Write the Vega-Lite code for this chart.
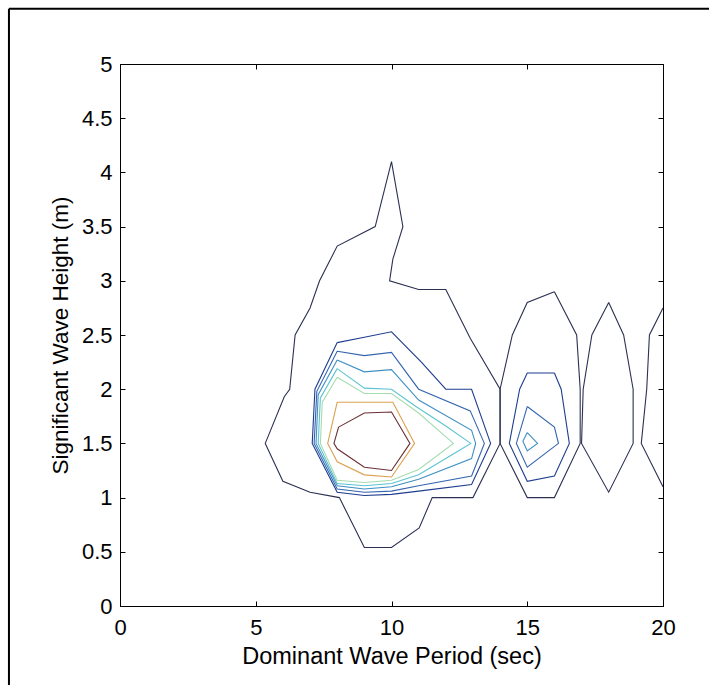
{
  "$schema": "https://vega.github.io/schema/vega-lite/v6.json",
  "width": 543,
  "height": 542,
  "autosize": {"type": "none"},
  "padding": {"left": 120, "top": 64, "right": 46, "bottom": 79},
  "background": "white",
  "config": {
    "font": "Liberation Sans",
    "view": {"stroke": "black", "strokeWidth": 1},
    "axis": {
      "grid": false,
      "domainColor": "black",
      "tickColor": "black",
      "tickSize": -5,
      "labelFont": "Liberation Sans",
      "labelFontSize": 22,
      "labelColor": "black",
      "labelFlush": false,
      "labelOverlap": false,
      "titleFont": "Liberation Sans",
      "titleFontSize": 23.5,
      "titleFontWeight": "normal",
      "titleColor": "black"
    }
  },
  "datasets": {
    "frame": [
      {"x": -4.09, "x2": -4.09, "y": 5.51, "y2": -1.2},
      {"x": -4.09, "x2": 22.5, "y": 5.51, "y2": 5.51}
    ],
    "contours": [
      {"line": "a1", "level": 1, "seq": 1, "period": 10, "height": 4.1},
      {"line": "a1", "level": 1, "seq": 2, "period": 10.42, "height": 3.5},
      {"line": "a1", "level": 1, "seq": 3, "period": 10.05, "height": 3.2},
      {"line": "a1", "level": 1, "seq": 4, "period": 9.93, "height": 3.0},
      {"line": "a1", "level": 1, "seq": 5, "period": 11, "height": 2.92},
      {"line": "a1", "level": 1, "seq": 6, "period": 12, "height": 2.92},
      {"line": "a1", "level": 1, "seq": 7, "period": 12.9, "height": 2.47},
      {"line": "a1", "level": 1, "seq": 8, "period": 14, "height": 2.0},
      {"line": "a1", "level": 1, "seq": 9, "period": 14, "height": 1.5},
      {"line": "a1", "level": 1, "seq": 10, "period": 13, "height": 1.0},
      {"line": "a1", "level": 1, "seq": 11, "period": 11.5, "height": 1.0},
      {"line": "a1", "level": 1, "seq": 12, "period": 11.02, "height": 0.72},
      {"line": "a1", "level": 1, "seq": 13, "period": 10, "height": 0.54},
      {"line": "a1", "level": 1, "seq": 14, "period": 9, "height": 0.54},
      {"line": "a1", "level": 1, "seq": 15, "period": 8.08, "height": 1.0},
      {"line": "a1", "level": 1, "seq": 16, "period": 7, "height": 1.05},
      {"line": "a1", "level": 1, "seq": 17, "period": 6, "height": 1.15},
      {"line": "a1", "level": 1, "seq": 18, "period": 5.35, "height": 1.5},
      {"line": "a1", "level": 1, "seq": 19, "period": 6.05, "height": 1.93},
      {"line": "a1", "level": 1, "seq": 20, "period": 6.25, "height": 2.0},
      {"line": "a1", "level": 1, "seq": 21, "period": 6.45, "height": 2.5},
      {"line": "a1", "level": 1, "seq": 22, "period": 7, "height": 2.75},
      {"line": "a1", "level": 1, "seq": 23, "period": 7.35, "height": 3.0},
      {"line": "a1", "level": 1, "seq": 24, "period": 8, "height": 3.32},
      {"line": "a1", "level": 1, "seq": 25, "period": 9.4, "height": 3.5},
      {"line": "a1", "level": 1, "seq": 26, "period": 10, "height": 4.1},

      {"line": "b1", "level": 1, "seq": 1, "period": 16, "height": 2.9},
      {"line": "b1", "level": 1, "seq": 2, "period": 15, "height": 2.8},
      {"line": "b1", "level": 1, "seq": 3, "period": 14.45, "height": 2.5},
      {"line": "b1", "level": 1, "seq": 4, "period": 14, "height": 2.0},
      {"line": "b1", "level": 1, "seq": 5, "period": 14, "height": 1.5},
      {"line": "b1", "level": 1, "seq": 6, "period": 15, "height": 1.0},
      {"line": "b1", "level": 1, "seq": 7, "period": 16, "height": 1.0},
      {"line": "b1", "level": 1, "seq": 8, "period": 16.95, "height": 1.5},
      {"line": "b1", "level": 1, "seq": 9, "period": 16.95, "height": 2.0},
      {"line": "b1", "level": 1, "seq": 10, "period": 16.82, "height": 2.5},
      {"line": "b1", "level": 1, "seq": 11, "period": 16, "height": 2.9},

      {"line": "c1", "level": 1, "seq": 1, "period": 18, "height": 2.8},
      {"line": "c1", "level": 1, "seq": 2, "period": 17.38, "height": 2.5},
      {"line": "c1", "level": 1, "seq": 3, "period": 17.06, "height": 2.0},
      {"line": "c1", "level": 1, "seq": 4, "period": 17.0, "height": 1.5},
      {"line": "c1", "level": 1, "seq": 5, "period": 18, "height": 1.05},
      {"line": "c1", "level": 1, "seq": 6, "period": 18.9, "height": 1.5},
      {"line": "c1", "level": 1, "seq": 7, "period": 18.9, "height": 2.0},
      {"line": "c1", "level": 1, "seq": 8, "period": 18.55, "height": 2.5},
      {"line": "c1", "level": 1, "seq": 9, "period": 18, "height": 2.8},

      {"line": "d1", "level": 1, "seq": 1, "period": 20, "height": 2.75},
      {"line": "d1", "level": 1, "seq": 2, "period": 19.5, "height": 2.5},
      {"line": "d1", "level": 1, "seq": 3, "period": 19.4, "height": 2.0},
      {"line": "d1", "level": 1, "seq": 4, "period": 19.2, "height": 1.5},
      {"line": "d1", "level": 1, "seq": 5, "period": 20, "height": 1.1},

      {"line": "a2", "level": 2, "seq": 1, "period": 8, "height": 2.43},
      {"line": "a2", "level": 2, "seq": 2, "period": 9, "height": 2.48},
      {"line": "a2", "level": 2, "seq": 3, "period": 10, "height": 2.53},
      {"line": "a2", "level": 2, "seq": 4, "period": 11.1, "height": 2.25},
      {"line": "a2", "level": 2, "seq": 5, "period": 12, "height": 2.0},
      {"line": "a2", "level": 2, "seq": 6, "period": 12.95, "height": 2.0},
      {"line": "a2", "level": 2, "seq": 7, "period": 13.65, "height": 1.5},
      {"line": "a2", "level": 2, "seq": 8, "period": 12.95, "height": 1.12},
      {"line": "a2", "level": 2, "seq": 9, "period": 11, "height": 1.06},
      {"line": "a2", "level": 2, "seq": 10, "period": 10, "height": 1.03},
      {"line": "a2", "level": 2, "seq": 11, "period": 9, "height": 1.02},
      {"line": "a2", "level": 2, "seq": 12, "period": 8, "height": 1.05},
      {"line": "a2", "level": 2, "seq": 13, "period": 7.08, "height": 1.5},
      {"line": "a2", "level": 2, "seq": 14, "period": 7.18, "height": 2.0},
      {"line": "a2", "level": 2, "seq": 15, "period": 8, "height": 2.43},

      {"line": "a3", "level": 3, "seq": 1, "period": 8, "height": 2.35},
      {"line": "a3", "level": 3, "seq": 2, "period": 9, "height": 2.31},
      {"line": "a3", "level": 3, "seq": 3, "period": 10, "height": 2.34},
      {"line": "a3", "level": 3, "seq": 4, "period": 11, "height": 2.0},
      {"line": "a3", "level": 3, "seq": 5, "period": 12.9, "height": 1.8},
      {"line": "a3", "level": 3, "seq": 6, "period": 13.42, "height": 1.5},
      {"line": "a3", "level": 3, "seq": 7, "period": 12.95, "height": 1.2},
      {"line": "a3", "level": 3, "seq": 8, "period": 11, "height": 1.11},
      {"line": "a3", "level": 3, "seq": 9, "period": 10, "height": 1.06},
      {"line": "a3", "level": 3, "seq": 10, "period": 9, "height": 1.05},
      {"line": "a3", "level": 3, "seq": 11, "period": 8, "height": 1.08},
      {"line": "a3", "level": 3, "seq": 12, "period": 7.15, "height": 1.5},
      {"line": "a3", "level": 3, "seq": 13, "period": 7.25, "height": 1.98},
      {"line": "a3", "level": 3, "seq": 14, "period": 8, "height": 2.35},

      {"line": "a4", "level": 4, "seq": 1, "period": 8, "height": 2.27},
      {"line": "a4", "level": 4, "seq": 2, "period": 9, "height": 2.16},
      {"line": "a4", "level": 4, "seq": 3, "period": 10, "height": 2.18},
      {"line": "a4", "level": 4, "seq": 4, "period": 11, "height": 1.9},
      {"line": "a4", "level": 4, "seq": 5, "period": 12.95, "height": 1.62},
      {"line": "a4", "level": 4, "seq": 6, "period": 13.1, "height": 1.5},
      {"line": "a4", "level": 4, "seq": 7, "period": 12.95, "height": 1.36},
      {"line": "a4", "level": 4, "seq": 8, "period": 11, "height": 1.17},
      {"line": "a4", "level": 4, "seq": 9, "period": 10, "height": 1.1},
      {"line": "a4", "level": 4, "seq": 10, "period": 9, "height": 1.08},
      {"line": "a4", "level": 4, "seq": 11, "period": 8, "height": 1.11},
      {"line": "a4", "level": 4, "seq": 12, "period": 7.22, "height": 1.5},
      {"line": "a4", "level": 4, "seq": 13, "period": 7.3, "height": 1.95},
      {"line": "a4", "level": 4, "seq": 14, "period": 8, "height": 2.27},

      {"line": "a5", "level": 5, "seq": 1, "period": 8, "height": 2.19},
      {"line": "a5", "level": 5, "seq": 2, "period": 9, "height": 2.01},
      {"line": "a5", "level": 5, "seq": 3, "period": 10, "height": 2.0},
      {"line": "a5", "level": 5, "seq": 4, "period": 10.9, "height": 1.84},
      {"line": "a5", "level": 5, "seq": 5, "period": 12, "height": 1.66},
      {"line": "a5", "level": 5, "seq": 6, "period": 12.92, "height": 1.5},
      {"line": "a5", "level": 5, "seq": 7, "period": 12, "height": 1.36},
      {"line": "a5", "level": 5, "seq": 8, "period": 11, "height": 1.21},
      {"line": "a5", "level": 5, "seq": 9, "period": 10, "height": 1.13},
      {"line": "a5", "level": 5, "seq": 10, "period": 9, "height": 1.11},
      {"line": "a5", "level": 5, "seq": 11, "period": 8, "height": 1.13},
      {"line": "a5", "level": 5, "seq": 12, "period": 7.3, "height": 1.5},
      {"line": "a5", "level": 5, "seq": 13, "period": 7.38, "height": 1.92},
      {"line": "a5", "level": 5, "seq": 14, "period": 8, "height": 2.19},

      {"line": "a6", "level": 6, "seq": 1, "period": 8, "height": 2.11},
      {"line": "a6", "level": 6, "seq": 2, "period": 9, "height": 1.96},
      {"line": "a6", "level": 6, "seq": 3, "period": 10, "height": 1.96},
      {"line": "a6", "level": 6, "seq": 4, "period": 11, "height": 1.78},
      {"line": "a6", "level": 6, "seq": 5, "period": 12.28, "height": 1.5},
      {"line": "a6", "level": 6, "seq": 6, "period": 11, "height": 1.26},
      {"line": "a6", "level": 6, "seq": 7, "period": 10, "height": 1.16},
      {"line": "a6", "level": 6, "seq": 8, "period": 9, "height": 1.14},
      {"line": "a6", "level": 6, "seq": 9, "period": 8, "height": 1.16},
      {"line": "a6", "level": 6, "seq": 10, "period": 7.38, "height": 1.5},
      {"line": "a6", "level": 6, "seq": 11, "period": 7.45, "height": 1.88},
      {"line": "a6", "level": 6, "seq": 12, "period": 8, "height": 2.11},

      {"line": "a7", "level": 7, "seq": 1, "period": 8, "height": 1.88},
      {"line": "a7", "level": 7, "seq": 2, "period": 9, "height": 1.88},
      {"line": "a7", "level": 7, "seq": 3, "period": 10.05, "height": 1.88},
      {"line": "a7", "level": 7, "seq": 4, "period": 10.85, "height": 1.5},
      {"line": "a7", "level": 7, "seq": 5, "period": 10, "height": 1.19},
      {"line": "a7", "level": 7, "seq": 6, "period": 9, "height": 1.21},
      {"line": "a7", "level": 7, "seq": 7, "period": 8, "height": 1.33},
      {"line": "a7", "level": 7, "seq": 8, "period": 7.65, "height": 1.5},
      {"line": "a7", "level": 7, "seq": 9, "period": 8, "height": 1.88},

      {"line": "a8", "level": 8, "seq": 1, "period": 8.05, "height": 1.65},
      {"line": "a8", "level": 8, "seq": 2, "period": 9, "height": 1.78},
      {"line": "a8", "level": 8, "seq": 3, "period": 10, "height": 1.79},
      {"line": "a8", "level": 8, "seq": 4, "period": 10.68, "height": 1.5},
      {"line": "a8", "level": 8, "seq": 5, "period": 10, "height": 1.25},
      {"line": "a8", "level": 8, "seq": 6, "period": 9, "height": 1.28},
      {"line": "a8", "level": 8, "seq": 7, "period": 8, "height": 1.45},
      {"line": "a8", "level": 8, "seq": 8, "period": 7.88, "height": 1.5},
      {"line": "a8", "level": 8, "seq": 9, "period": 8.05, "height": 1.65},

      {"line": "b2", "level": 2, "seq": 1, "period": 16, "height": 2.15},
      {"line": "b2", "level": 2, "seq": 2, "period": 15, "height": 2.15},
      {"line": "b2", "level": 2, "seq": 3, "period": 14.72, "height": 2.0},
      {"line": "b2", "level": 2, "seq": 4, "period": 14.34, "height": 1.5},
      {"line": "b2", "level": 2, "seq": 5, "period": 15, "height": 1.15},
      {"line": "b2", "level": 2, "seq": 6, "period": 16, "height": 1.2},
      {"line": "b2", "level": 2, "seq": 7, "period": 16.55, "height": 1.5},
      {"line": "b2", "level": 2, "seq": 8, "period": 16.25, "height": 2.0},
      {"line": "b2", "level": 2, "seq": 9, "period": 16, "height": 2.15},

      {"line": "b3", "level": 3, "seq": 1, "period": 15, "height": 1.84},
      {"line": "b3", "level": 3, "seq": 2, "period": 16, "height": 1.65},
      {"line": "b3", "level": 3, "seq": 3, "period": 16.15, "height": 1.5},
      {"line": "b3", "level": 3, "seq": 4, "period": 15, "height": 1.28},
      {"line": "b3", "level": 3, "seq": 5, "period": 14.6, "height": 1.5},
      {"line": "b3", "level": 3, "seq": 6, "period": 15, "height": 1.84},

      {"line": "b4", "level": 4, "seq": 1, "period": 15, "height": 1.6},
      {"line": "b4", "level": 4, "seq": 2, "period": 15.38, "height": 1.5},
      {"line": "b4", "level": 4, "seq": 3, "period": 15, "height": 1.43},
      {"line": "b4", "level": 4, "seq": 4, "period": 14.84, "height": 1.52},
      {"line": "b4", "level": 4, "seq": 5, "period": 15, "height": 1.6}
    ]
  },
  "layer": [
    {
      "data": {"name": "frame"},
      "mark": {"type": "rule", "color": "black", "strokeWidth": 2, "clip": false},
      "encoding": {
        "x": {"field": "x", "type": "quantitative", "scale": {"domain": [0, 20], "nice": false, "zero": false}, "axis": {"orient": "top", "labels": false, "title": null, "values": [0, 5, 10, 15, 20], "domain": false}},
        "x2": {"field": "x2"},
        "y": {"field": "y", "type": "quantitative", "scale": {"domain": [0, 5], "nice": false, "zero": false}, "axis": {"orient": "right", "labels": false, "title": null, "values": [0, 0.5, 1, 1.5, 2, 2.5, 3, 3.5, 4, 4.5, 5], "domain": false}},
        "y2": {"field": "y2"}
      }
    },
    {
      "data": {"name": "contours"},
      "mark": {"type": "line", "strokeWidth": 1.1, "clip": true},
      "encoding": {
        "x": {
          "field": "period", "type": "quantitative",
          "scale": {"domain": [0, 20], "nice": false, "zero": false},
          "axis": {"orient": "bottom", "values": [0, 5, 10, 15, 20], "format": "~g", "labelPadding": 16, "title": "Dominant Wave Period (sec)", "titlePadding": 6}
        },
        "y": {
          "field": "height", "type": "quantitative",
          "scale": {"domain": [0, 5], "nice": false, "zero": false},
          "axis": {"orient": "left", "values": [0, 0.5, 1, 1.5, 2, 2.5, 3, 3.5, 4, 4.5, 5], "format": "~g", "labelPadding": 13, "title": "Significant Wave Height (m)", "titleFontSize": 22.5, "titlePadding": 9}
        },
        "color": {
          "field": "level", "type": "ordinal",
          "scale": {"domain": [1, 2, 3, 4, 5, 6, 7, 8], "range": ["#2c3152", "#1f3d8f", "#3565b0", "#3f8fc4", "#5cc3d3", "#a5dcb0", "#dca050", "#6a2e35"]},
          "legend": null
        },
        "detail": {"field": "line"},
        "order": {"field": "seq", "type": "quantitative"}
      }
    }
  ],
  "resolve": {"axis": {"x": "independent", "y": "independent"}}
}
